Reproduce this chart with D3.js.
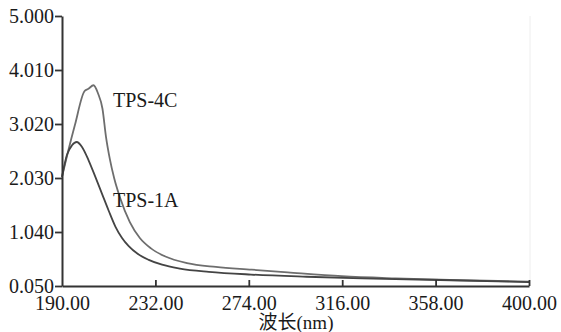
<!DOCTYPE html>
<html><head><meta charset="utf-8">
<script src="https://cdn.jsdelivr.net/npm/d3@7"></script>
<style>html,body{margin:0;padding:0;background:#fff;}svg{display:block;}</style>
</head><body>
<svg id="c" width="561" height="332"></svg>
<script>
const xTicks = [190, 232, 274, 316, 358, 400];
const yTicks = [0.05, 1.04, 2.03, 3.02, 4.01, 5.0];
const wl4C = [190, 192.7, 195.8, 200.1, 201.7, 204.2, 206.2, 208.2, 209.8, 211.5, 213.5, 216, 220.5, 225, 230, 236.5, 246.2, 259.2, 275.3, 291.5, 315.8, 340, 364.3, 400];
const abs4C = [2.05, 2.51, 3.0, 3.62, 3.66, 3.73, 3.58, 3.3, 2.78, 2.38, 2.02, 1.68, 1.22, 0.93, 0.74, 0.59, 0.47, 0.4, 0.35, 0.3, 0.23, 0.19, 0.16, 0.13];
const wl1A = [190, 192.2, 194.5, 196.6, 199, 202, 205, 208, 211, 214, 217, 220, 224, 229, 235, 243, 256, 275, 300, 325, 360, 400];
const abs1A = [2.05, 2.45, 2.63, 2.69, 2.6, 2.35, 2.05, 1.74, 1.43, 1.14, 0.93, 0.78, 0.64, 0.53, 0.44, 0.37, 0.31, 0.26, 0.22, 0.19, 0.16, 0.12];
const seriesLabels = ["TPS-4C", "TPS-1A"];
const xTitle = "波长(nm)";

const svg = d3.select("#c");
const x = d3.scaleLinear().domain([190, 400]).range([62, 529]);
const y = d3.scaleLinear().domain([0.05, 5.0]).range([286, 16]);
const font = "'Liberation Serif','Times New Roman',serif";

svg.append("line").attr("x1", 530).attr("x2", 530).attr("y1", 16).attr("y2", 286)
  .attr("stroke", "#eeeeee").attr("stroke-width", 1);

const line = d3.line().x(d => x(d[0])).y(d => y(d[1])).curve(d3.curveMonotoneX);
svg.append("path").datum(wl4C.map((w, i) => [w, abs4C[i]]))
  .attr("d", line).attr("fill", "none").attr("stroke", "#6e6e6e").attr("stroke-width", 1.8);
svg.append("path").datum(wl1A.map((w, i) => [w, abs1A[i]]))
  .attr("d", line).attr("fill", "none").attr("stroke", "#444444").attr("stroke-width", 1.8);

const xAxis = svg.append("g").attr("transform", "translate(0,286)")
  .call(d3.axisBottom(x).tickValues(xTicks).tickFormat(d3.format(".2f")).tickSizeInner(-6).tickSizeOuter(0).tickPadding(10));
const yAxis = svg.append("g").attr("transform", "translate(62,0)")
  .call(d3.axisLeft(y).tickValues(yTicks).tickFormat(d3.format(".3f")).tickSizeInner(7).tickSizeOuter(0).tickPadding(1));
[xAxis, yAxis].forEach(g => {
  g.attr("font-family", font);
  g.select(".domain").attr("stroke", "#333").attr("stroke-width", 2);
  g.selectAll(".tick line").attr("stroke", "#333").attr("stroke-width", 1.8);
  g.selectAll("text").attr("fill", "#1a1a1a").style("font-family", font).style("font-size", "20px");
});
xAxis.selectAll(".tick").filter(d => d === 190).select("line").remove();
yAxis.selectAll(".tick text").attr("dy", "0.3em");

svg.append("text").attr("x", 113).attr("y", 107).text(seriesLabels[0])
  .style("font-family", font).style("font-size", "20px").attr("fill", "#1a1a1a");
svg.append("text").attr("x", 113).attr("y", 207).text(seriesLabels[1])
  .style("font-family", font).style("font-size", "20px").attr("fill", "#1a1a1a");
svg.append("text").attr("x", 296).attr("y", 329).attr("text-anchor", "middle").text(xTitle)
  .style("font-family", "'Liberation Serif','Noto Sans CJK SC',serif").style("font-size", "19px").attr("fill", "#1a1a1a");
</script>
</body></html>
